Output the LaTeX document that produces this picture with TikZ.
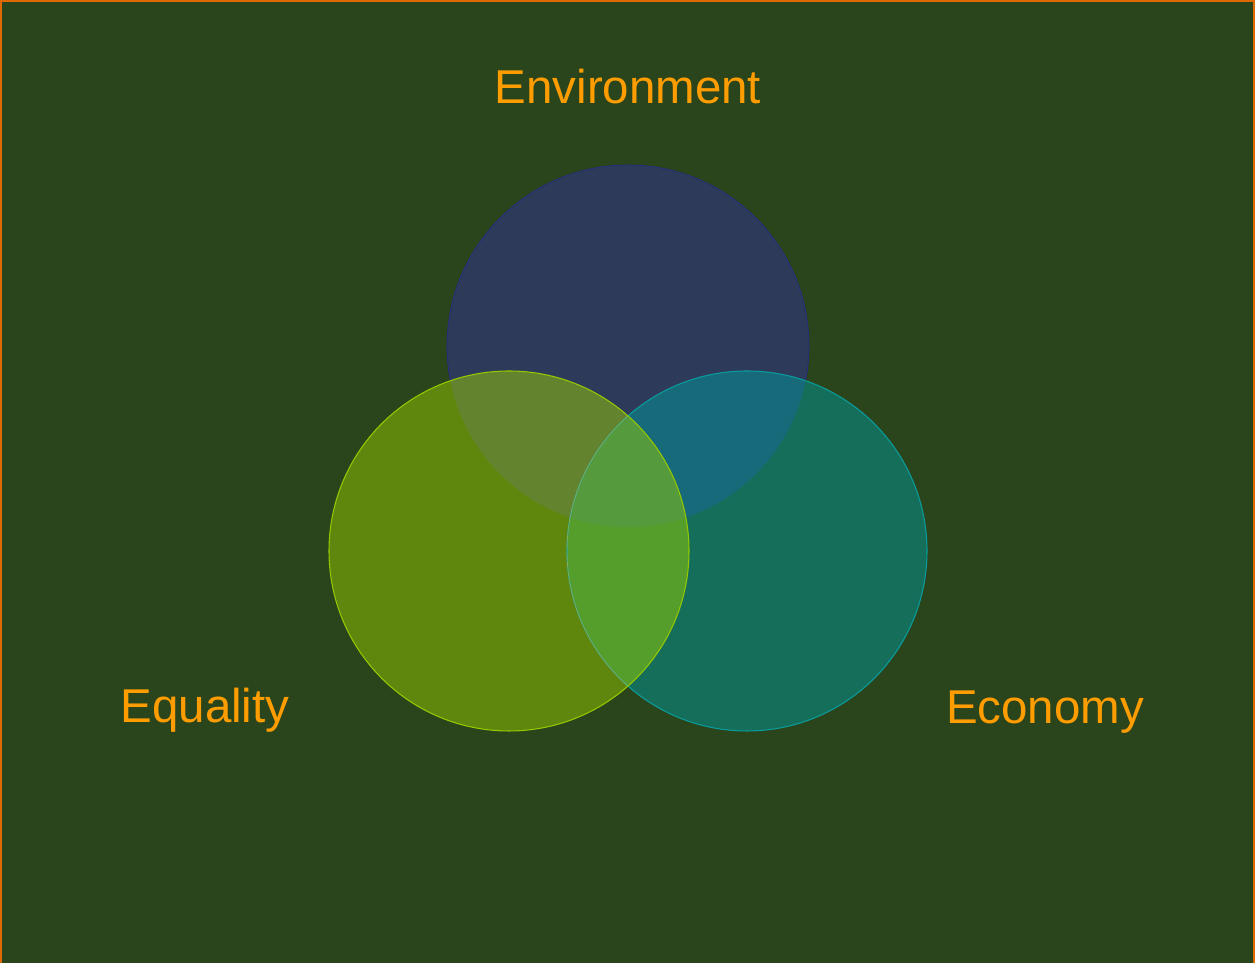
\documentclass[tikz,border=0pt]{standalone}
\usepackage{fontspec}
\setmainfont{Liberation Sans}
\usepackage{tikz}
\usetikzlibrary{positioning}

\definecolor{boardbg}{HTML}{2A451C}
\definecolor{boardedge}{HTML}{E06A00}
\definecolor{labelorange}{HTML}{FF9D00}
\definecolor{envfill}{HTML}{2E3A5A}
\definecolor{equfill}{HTML}{5F870D}
\definecolor{ecofill}{HTML}{146E5A}
\definecolor{envequ}{HTML}{63832E}
\definecolor{enveco}{HTML}{166A7A}
\definecolor{equeco}{HTML}{569E2C}
\definecolor{allthree}{HTML}{559A3C}
\definecolor{equedge}{HTML}{94C800}
\definecolor{ecoedge}{HTML}{0A9C9C}

\begin{document}
\begin{tikzpicture}[
                label/.style={text=labelorange, font=\fontsize{27}{32}\selectfont, anchor=base},
                envring/.style={draw=envfill!75!blue, line width=0.4pt},
                equring/.style={draw=equedge, line width=0.6pt},
                ecoring/.style={draw=ecoedge, line width=0.6pt}
            ]
            % Board
            \useasboundingbox (0,0) rectangle (25.1,19.26);
            \fill[boardbg] (0,0) rectangle (25.1,19.26);
            \draw[boardedge, line width=1.5pt] (0.02,-0.2) rectangle (25.08,19.24);

            % Circle centres
            \coordinate (env) at (12.56,12.34);
            \coordinate (equ) at (10.18,8.24);
            \coordinate (eco) at (14.94,8.24);

            % Plain circles
            \filldraw[fill=envfill, envring] (env) circle (3.62);
            \fill[equfill] (equ) circle (3.6);
            \fill[ecofill] (eco) circle (3.6);

            % Pairwise overlaps
            \begin{scope}
                \clip (env) circle (3.62);
                \fill[envequ] (equ) circle (3.6);
                \fill[enveco] (eco) circle (3.6);
            \end{scope}
            \begin{scope}
                \clip (equ) circle (3.6);
                \fill[equeco] (eco) circle (3.6);
            \end{scope}

            % Middle of all three
            \begin{scope}
                \clip (env) circle (3.62);
                \clip (equ) circle (3.6);
                \fill[allthree] (eco) circle (3.6);
            \end{scope}

            % Outlines
            \draw[ecoring] (eco) circle (3.6);
            \begin{scope}
                \clip (equ) circle (3.6);
                \draw[draw=allthree!80!white, line width=0.5pt] (eco) circle (3.6);
            \end{scope}
            \draw[equring] (equ) circle (3.6);

            % Labels
            \node[label] (environment) at (12.56,17.19) {Environment};
            \node[label] (equality) at (4.10,4.80) {Equality};
            \node[label] (economy) at (20.9,4.78) {Economy};
        \end{tikzpicture}
\end{document}
